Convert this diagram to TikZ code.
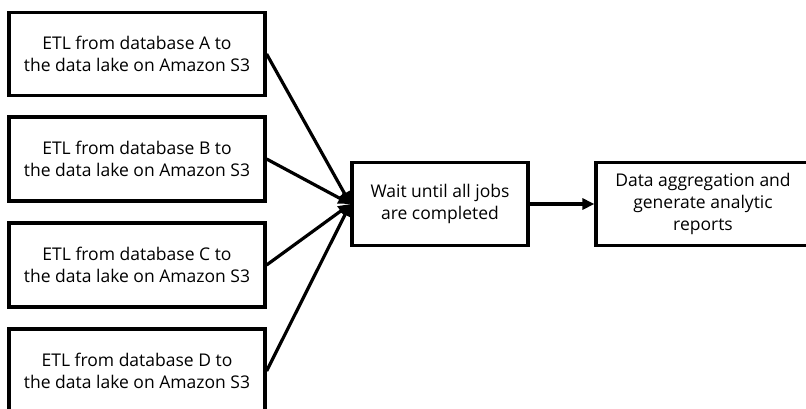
\documentclass[tikz,border=0pt]{standalone}
\usepackage{fontspec}
\setmainfont{Open Sans}
\usetikzlibrary{arrows.meta}
\begin{document}
\begin{tikzpicture}[x=1pt,y=-1pt,
  box/.style={draw=black,line width=3.2pt,fill=white,inner sep=0pt,align=center,
    font=\fontsize{17.5}{22}\selectfont},
  conn/.style={line width=3.2pt,-{Triangle[length=12pt,width=11pt]}}]
\useasboundingbox (0,0) rectangle (806,408);
\clip (0,0) rectangle (806,408);
\node[box,minimum width=256pt,minimum height=83pt] (a) at (137,54) {ETL from database A to\\the data lake on Amazon S3};
\node[box,minimum width=256pt,minimum height=84pt] (b) at (137,159) {ETL from database B to\\the data lake on Amazon S3};
\node[box,minimum width=256pt,minimum height=84pt] (c) at (137,265) {ETL from database C to\\the data lake on Amazon S3};
\node[box,minimum width=256pt,minimum height=84pt] (d) at (137,371) {ETL from database D to\\the data lake on Amazon S3};
\node[box,minimum width=176pt,minimum height=83pt] (w) at (440,204) {Wait until all jobs\\are completed};
\node[box,minimum width=214pt,minimum height=83pt] (r) at (703,204) {Data aggregation and\\generate analytic\\reports};
\draw[conn] (a.east) -- (w.west);
\draw[conn] (b.east) -- (w.west);
\draw[conn] (c.east) -- (w.west);
\draw[conn] (d.east) -- (w.west);
\draw[conn] (w.east) -- (r.west);
\end{tikzpicture}
\end{document}
